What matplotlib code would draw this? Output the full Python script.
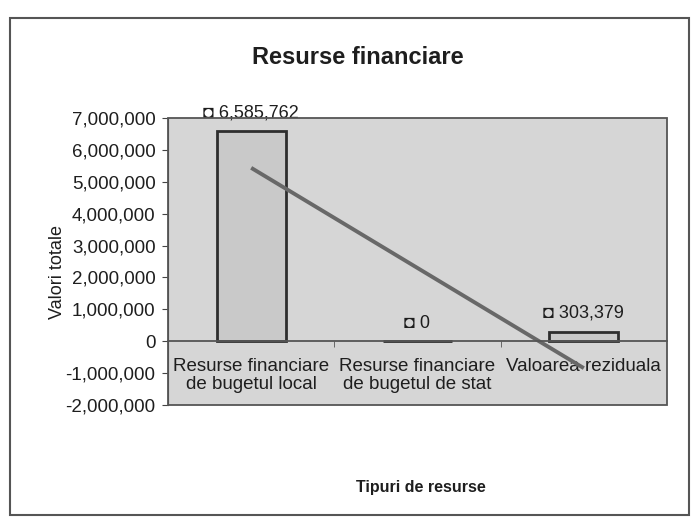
import numpy as np
import matplotlib.pyplot as plt
from matplotlib.patches import Rectangle
from matplotlib.ticker import FuncFormatter

plt.rcParams['font.family'] = ['Liberation Sans', 'DejaVu Sans']

categories = ['Resurse financiare\nde bugetul local',
              'Resurse financiare\nde bugetul de stat',
              'Valoarea reziduala']
values = [6585762, 0, 303379]
y_ticks = np.arange(-2_000_000, 7_000_001, 1_000_000)

x = np.arange(len(categories))
text_col = '#1e1e1e'

fig = plt.figure(figsize=(6.92, 5.19), dpi=100)
fig.patch.set_facecolor('white')

# chart area border
fig.patches.append(Rectangle((10 / 692, 4 / 519), 679 / 692, 497 / 519,
                             transform=fig.transFigure, fill=False,
                             ec='#555555', lw=1.5))

ax = fig.add_axes([168 / 692, 114 / 519, 499 / 692, 287 / 519])
ax.set_facecolor('#d6d6d6')

ax.bar(x, values, width=0.415, color='#c9c9c9', edgecolor='#2e2e2e',
       linewidth=2, zorder=2)

# linear trend line over the bars
coef = np.polyfit(x, values, 1)
ends = x[[0, -1]]
ax.plot(ends, np.polyval(coef, ends), color='#686868', lw=2.8, zorder=3,
        solid_capstyle='butt')

# data labels with the small legend key
for xi, v in zip(x, values):
    ax.annotate(f'\u25d8 {v:,}', (xi, v), xytext=(0, 7),
                textcoords='offset points', ha='center', va='bottom',
                fontsize=13, color=text_col, zorder=4)

ax.set_xlim(-0.5, 2.5)
ax.set_ylim(-2_000_000, 7_000_000)

# frame + axis at zero
for s in ['top', 'right']:
    ax.spines[s].set_visible(False)
ax.spines['left'].set_color('#444444')
ax.spines['bottom'].set_position(('data', 0))
ax.spines['bottom'].set_color('#555555')
ax.spines['bottom'].set_linewidth(1.3)
ax.spines['bottom'].set_zorder(3.5)
ax.add_patch(Rectangle((0, 0), 1, 1, transform=ax.transAxes, fill=False,
                       ec='#555555', lw=1.3, zorder=5, clip_on=False))

ax.set_yticks(y_ticks)
ax.yaxis.set_major_formatter(FuncFormatter(lambda v, p: f'{v:,.0f}'))
ax.tick_params(axis='y', direction='out', length=4, pad=5,
               labelsize=13.5, labelcolor=text_col, color='#444444')

ax.set_xticks(x)
ax.set_xticklabels(categories, linespacing=1.1)
ax.set_xticks([0.5, 1.5], minor=True)
ax.tick_params(axis='x', which='major', length=0, pad=12,
               labelsize=13.5, labelcolor=text_col)
ax.tick_params(axis='x', which='minor', direction='out', length=4,
               color='#555555')

ax.set_ylabel('Valori totale', fontsize=13, color=text_col)
ax.yaxis.set_label_coords(-0.222, 0.463)
ax.yaxis.label.set_va('center')
ax.set_xlabel('Tipuri de resurse', fontsize=11.5, fontweight='bold',
              color=text_col)
ax.xaxis.set_label_coords(0.507, -0.286)
ax.xaxis.label.set_va('center')

fig.text(358 / 692, 1 - 58 / 519, 'Resurse financiare', ha='center',
         va='center', fontsize=17, fontweight='bold', color=text_col)

fig.savefig('out.png', dpi=100)
